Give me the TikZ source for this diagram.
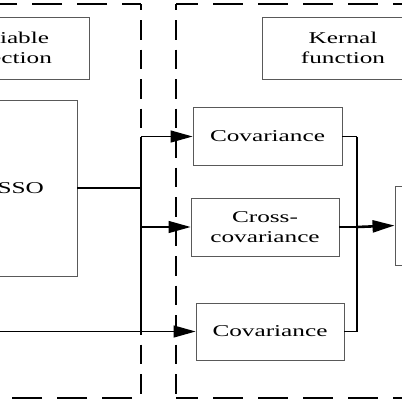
\documentclass[tikz,border=0pt]{standalone}
\usepackage{fontspec}
\usetikzlibrary{arrows.meta}
\newfontfamily\diagfont[FakeStretch=1.53]{Liberation Serif}
\begin{document}
\begin{tikzpicture}[x=1pt,y=-1pt,
  box/.style={draw=black!65, line width=0.9pt, inner sep=0pt, align=center,
    font=\diagfont\fontsize{16.5}{19.5}\selectfont},
  conn/.style={line width=1.3pt},
  busline/.style={line width=2.2pt},
  arr/.style={-{Triangle[length={22pt 0 0},width={12pt 0 0}]}},
  vdash/.style={line width=2pt, dash pattern=on 19.5pt off 10pt},
  hdash/.style={line width=2pt, dash pattern=on 30pt off 15pt}]
\useasboundingbox (0,0) rectangle (402,402);
\clip (0,0) rectangle (402,402);
% dashed group frames
\draw[hdash, dash phase=11pt] (141,4) -- (-20,4);
\draw[vdash, dash phase=13.5pt] (141,4) -- (141,398);
\draw[hdash, dash phase=36pt] (141,398) -- (-20,398);
\draw[hdash, dash phase=8pt] (176,4) -- (420,4);
\draw[vdash, dash phase=13.5pt] (176,4) -- (176,398);
\draw[hdash, dash phase=8pt] (176,398) -- (420,398);
% boxes
\node[box, minimum width=164pt, minimum height=62pt] (vs) at (7,48) {Variable\\selection};
\node[box, minimum width=146pt, minimum height=176pt] (lasso) at (4,188) {LASSO};
\node[box, minimum width=162pt, minimum height=62pt] (kf) at (343,48) {Kernal\\function};
\node[box, minimum width=149pt, minimum height=58pt] (cov1) at (267.5,136.5) {Covariance};
\node[box, minimum width=148pt, minimum height=58pt] (cross) at (265,227) {Cross-\\covariance};
\node[box, minimum width=148pt, minimum height=57pt] (cov2) at (270,331.5) {Covariance};
\node[box, minimum width=80pt, minimum height=79pt] (out) at (435,225.5) {};
% helper coordinates
\coordinate (in2) at (0,331.5);
\coordinate (bx) at (141,0);
\coordinate (rx) at (357,0);
% connectors
\draw[conn] (lasso.east) -- (lasso.east -| bx);
\draw[busline] (cov1.west -| bx) -- (cov2.west -| bx);
\draw[conn,arr] (cov1.west -| bx) -- (cov1.west);
\draw[conn,arr] (cross.west -| bx) -- (cross.west);
\draw[conn,arr] (in2) -- (cov2.west);
\draw[conn] (cov1.east) -- (cov1.east -| rx);
\draw[conn] (cov2.east) -- (cov2.east -| rx);
\draw[busline] (cov1.east -| rx) -- (cov2.east -| rx);
\draw[conn] (cross.east) -- (cross.east -| rx);
\draw[line width=2.6pt, arr] (cross.east -| rx) -- (out.west);
\end{tikzpicture}
\end{document}
